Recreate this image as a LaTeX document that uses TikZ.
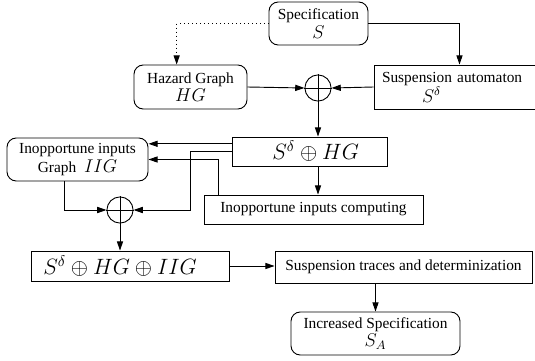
\documentclass[tikz,border=0pt]{standalone}
\usepackage{fontspec}
\setmainfont{Liberation Serif}
\usetikzlibrary{arrows.meta}
\begin{document}
\begin{tikzpicture}[x=0.65pt,y=-0.65pt,line width=0.6pt,
    >={Triangle[length=6pt,width=4pt]},
    blk/.style 2 args={draw,minimum width=#1*0.65pt,minimum height=#2*0.65pt,inner sep=0pt,align=center},
    rblk/.style 2 args={blk={#1}{#2},rounded corners=6pt},
    plus/.style={draw,circle,minimum size=17pt,inner sep=0pt}]
\useasboundingbox (0,0) rectangle (535,361);

% boxes
\node[rblk={99}{43}] (spec) at (318.5,23.5) {Specification\\\large$S$};
\node[rblk={113}{44}] (hg) at (190.5,87) {Hazard Graph\\\large$HG$\hspace{13pt}};
\node[blk={171}{44},align=left,text width=155*0.65pt,inner xsep=8*0.65pt] (susp) at (459.5,87)
    {Suspension automaton\\\hspace*{26pt}\large$S^\delta$};
\node[plus] (op1) at (318,88) {};
\node[blk={155}{29}] (shg) at (309.5,151.5) {\hspace{8pt}\Large$S^\delta\oplus HG$};
\node[rblk={141}{43}] (iig) at (77.5,159.5) {Inopportune inputs\\Graph \ \large$IIG$};
\node[blk={219}{29}] (comp) at (313.5,209.5) {Inopportune inputs computing};
\node[plus] (op2) at (120,210) {};
\node[blk={198}{30}] (all) at (130,266) {\Large$S^\delta\oplus HG\oplus IIG$\hspace{13pt}};
\node[blk={257}{32}] (trace) at (403.5,267) {Suspension traces and determinization};
\node[rblk={169}{43}] (inc) at (375.5,333.5) {Increased Specification\\\large$S_A$};

\foreach \o in {op1,op2}
    \draw (\o.north) -- (\o.south) (\o.west) -- (\o.east);

% connectors
\draw[->] (spec.east) -| (susp.north);
\draw[->,dotted] (spec.west) -| ([xshift=-9pt]hg.north);
\draw[->] (hg.east) -- (op1.west);
\draw[->] (susp.west) -- (op1.east);
\draw[->] (op1.south) -- (op1.south |- shg.north);
\draw[->] ([yshift=5pt]shg.west) -- ([yshift=5pt]shg.west -| iig.east);
\draw[->] (shg.west) -- ++(-41,0) |- (op2.east);
\draw[->] ([xshift=9.75pt]comp.north west) |- (iig.east);
\draw[->] (op1.south |- shg.south) -- (op1.south |- comp.north);
\draw[->] ([xshift=-8.8pt]iig.south) |- (op2.west);
\draw[->] (op2.south) -- (op2.south |- all.north);
\draw[->] (all.east) -- (all.east -| trace.west);
\draw[->] (inc.north |- trace.south) -- (inc.north);
\end{tikzpicture}
\end{document}
